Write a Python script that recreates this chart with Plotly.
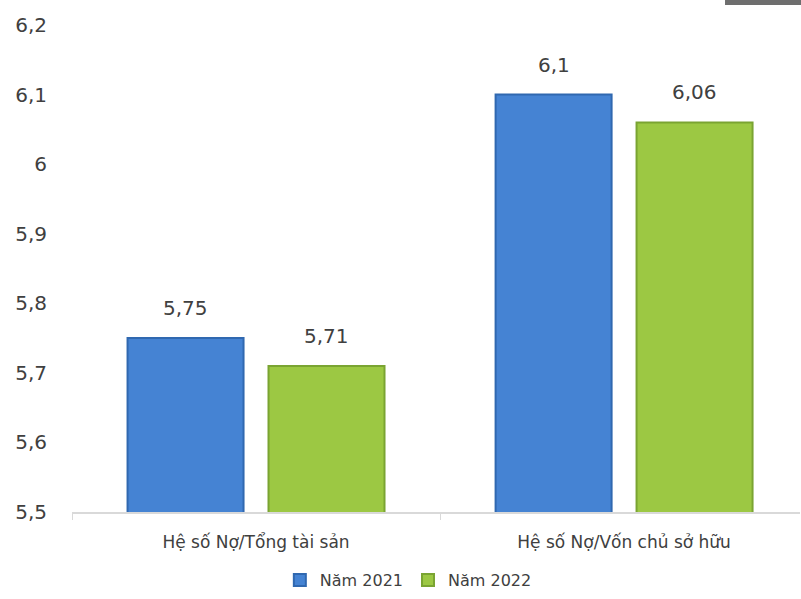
import plotly.graph_objects as go

categories = ["Hệ số Nợ/Tổng tài sản", "Hệ số Nợ/Vốn chủ sở hữu"]
series_names = ["Năm 2021", "Năm 2022"]
values_2021 = [5.75, 6.1]
values_2022 = [5.71, 6.06]
labels_2021 = ["5,75", "6,1"]
labels_2022 = ["5,71", "6,06"]
y_tickvals = [5.5, 5.6, 5.7, 5.8, 5.9, 6.0, 6.1, 6.2]
y_ticktext = ["5,5", "5,6", "5,7", "5,8", "5,9", "6", "6,1", "6,2"]

FONT = "DejaVu Sans"
TXT = "#404040"
BARGAP = 0.234
GROUPGAP = 0.177

fig = go.Figure()
fig.add_trace(go.Bar(
    x=categories, y=values_2021, name=series_names[0],
    marker=dict(color="#4583d3", line=dict(color="#3068b0", width=2)),
))
fig.add_trace(go.Bar(
    x=categories, y=values_2022, name=series_names[1],
    marker=dict(color="#9cc843", line=dict(color="#7aa432", width=2)),
))

# value labels placed at each bar's position on the category axis
slot = (1 - BARGAP) / 2
annotations = []
for series_i, (vals, labs) in enumerate([(values_2021, labels_2021), (values_2022, labels_2022)]):
    off = (series_i - 0.5) * slot
    for ci, (v, lab) in enumerate(zip(vals, labs)):
        annotations.append(dict(
            x=ci + off, y=v, xref="x", yref="y", text=lab, showarrow=False,
            yanchor="bottom", yshift=16,
            font=dict(size=20, color=TXT, family=FONT),
        ))

fig.update_layout(
    width=801, height=599,
    margin=dict(l=72, r=1, t=25, b=87),
    paper_bgcolor="white", plot_bgcolor="white",
    barmode="group", bargap=BARGAP, bargroupgap=GROUPGAP,
    font=dict(family=FONT, color=TXT, size=17),
    showlegend=True,
    legend=dict(orientation="h", x=0.462, xanchor="center", y=-0.105, yanchor="top",
                font=dict(size=16, color=TXT, family=FONT), itemwidth=30,
                traceorder="normal"),
    xaxis=dict(
        type="category",
        range=[-0.5, 1.478],
        showline=True, linecolor="#d9d9d9", linewidth=1.5,
        ticks="outside", tickson="boundaries", ticklen=6, tickcolor="#d9d9d9",
        tickfont=dict(size=17, color=TXT, family=FONT),
        ticklabelstandoff=14,
    ),
    yaxis=dict(
        range=[5.5, 6.2], tickvals=y_tickvals, ticktext=y_ticktext,
        showgrid=False, zeroline=False, showline=False,
        tickfont=dict(size=20, color=TXT, family=FONT),
        ticklabelstandoff=24,
    ),
    annotations=annotations,
    shapes=[dict(type="rect", xref="paper", yref="paper",
                 x0=0.897, x1=1.01, y0=1.041, y1=1.06,
                 fillcolor="#6e6e6e", line=dict(width=0), layer="above")],
)

fig.write_html("out.html", config={"displayModeBar": False},
               post_script="document.body.style.margin='0';")
